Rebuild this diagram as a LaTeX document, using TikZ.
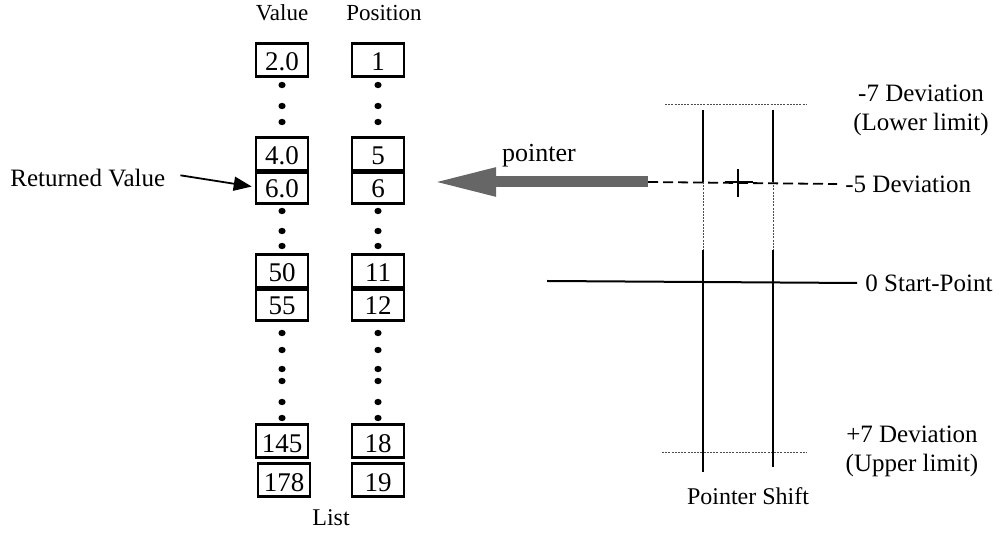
\documentclass[tikz,border=0pt]{standalone}
\usepackage{fontspec}
\setmainfont{Liberation Serif}
\usetikzlibrary{arrows.meta}
\begin{document}
\begin{tikzpicture}[x=0.5pt,y=-0.5pt,
  lbl/.style={inner sep=0pt, font=\fontsize{12.5}{14.5}\selectfont},
  hdr/.style={inner sep=0pt, font=\fontsize{11.5}{13}\selectfont},
  cell/.style={draw, line width=1.3pt, minimum width=26pt, minimum height=16.5pt,
               inner sep=0pt, text height=11pt, text depth=0pt,
               font=\fontsize{13.5}{15}\selectfont},
  sep/.style={line width=2.4pt},
  dotmark/.style={fill=black},
  guide/.style={line width=1pt},
  faint/.style={line width=0.35pt, black!70, dash pattern=on 1pt off 0.6pt},
]
\useasboundingbox (0,0) rectangle (1000,533);

% column headers
\node[hdr] (hval) at (282,13) {Value};
\node[hdr] (hpos) at (384,13) {Position};

% value column
\node[cell] (v1)  at (282,60)  {2.0};
\node[cell] (v5)  at (282,154) {4.0};
\node[cell] (v6)  at (282,187) {6.0};
\node[cell] (v11) at (282,271) {50};
\node[cell] (v12) at (282,304) {55};
\node[cell] (v18) at (282,441) {145};
\node[cell] (v19) at (284,480) {178};

% position column
\node[cell] (p1)  at (378,60)  {1};
\node[cell] (p5)  at (378,154) {5};
\node[cell] (p6)  at (378,187) {6};
\node[cell] (p11) at (378,271) {11};
\node[cell] (p12) at (378,304) {12};
\node[cell] (p18) at (378,441) {18};
\node[cell] (p19) at (378,480) {19};

% thick joins between adjacent entries
\foreach \a in {v5,v11,p5,p11}
  \draw[sep] (\a.south west) -- (\a.south east);

% ellipsis dots
\foreach \yy in {85,106,122,211,231,246,333,350,369,381,402,418} {
  \fill[dotmark] (282,\yy) ellipse (1.8pt and 1.6pt);
  \fill[dotmark] (378,\yy) ellipse (1.8pt and 1.6pt);
}

\node[hdr, font=\fontsize{12}{14}\selectfont] (list) at (331,518) {List};

% returned value label
\node[lbl, anchor=west] (ret) at (10,178) {Returned Value};
\draw[line width=0.9pt, -{Triangle[length=9pt,width=7pt]}, shorten <=7.5pt, shorten >=1.5pt]
  ([yshift=2.5pt]ret.east) -- (v6.west);

% right-hand scale
\node[lbl, align=center] (dev7) at (921,110) {-7 Deviation\\(Lower limit)};
\node[lbl, anchor=west] (dev5) at (845,184) {-5 Deviation};
\node[lbl, anchor=west] (dev0) at (865,283) {0 Start-Point};
\node[lbl, align=center] (devp7) at (912,451) {+7 Deviation\\(Upper limit)};
\node[lbl, font=\fontsize{12}{14}\selectfont] (shift) at (748,496) {Pointer Shift};

% scale coordinates
\coordinate (ltop) at (703,110);
\coordinate (lmid) at (703,182);
\coordinate (lres) at (703,250);
\coordinate (lbot) at (703,472);
\coordinate (rtop) at (773,110);
\coordinate (rmid) at (773,182);
\coordinate (rres) at (773,250);
\coordinate (rbot) at (773,467);

% limit lines
\coordinate (upA) at (665,104);
\coordinate (upB) at (807,104);
\coordinate (loA) at (662,452);
\coordinate (loB) at (807,452);
\draw[faint] (upA) -- (upB);
\draw[faint] (loA) -- (loB);

% pointer shift verticals
\draw[guide] (ltop) -- (lmid);
\draw[faint] (lmid) -- (lres);
\draw[guide] (lres) -- (lbot);
\draw[guide] (rtop) -- (rmid);
\draw[faint] (rmid) -- (rres);
\draw[guide] (rres) -- (rbot);

% start-point line
\coordinate (zA) at (547,281);
\draw[line width=1pt] (zA) -- ([xshift=-4pt]dev0.west);

% current pointer position mark
\coordinate (cur) at (738,182);
\draw[line width=0.8pt] ([yshift=6.5pt]cur) -- ([yshift=-7.5pt]cur);
\draw[line width=0.6pt] ([xshift=-6.5pt]cur) -- ([xshift=7.5pt]cur);

% pointer arrow and -5 line
\coordinate (ptail) at (648,182);
\coordinate (ptip) at (432,182);
\draw[line width=0.9pt, dash pattern=on 5pt off 2.5pt] (ptail) -- ([xshift=-4pt]dev5.west);
\draw[line width=5.5pt, black!60, -{Triangle[length=32pt,width=13pt]}] (ptail) -- (ptip);
\node[lbl, font=\fontsize{13}{15}\selectfont] (ptr) at (539,156) {pointer};

\end{tikzpicture}
\end{document}
